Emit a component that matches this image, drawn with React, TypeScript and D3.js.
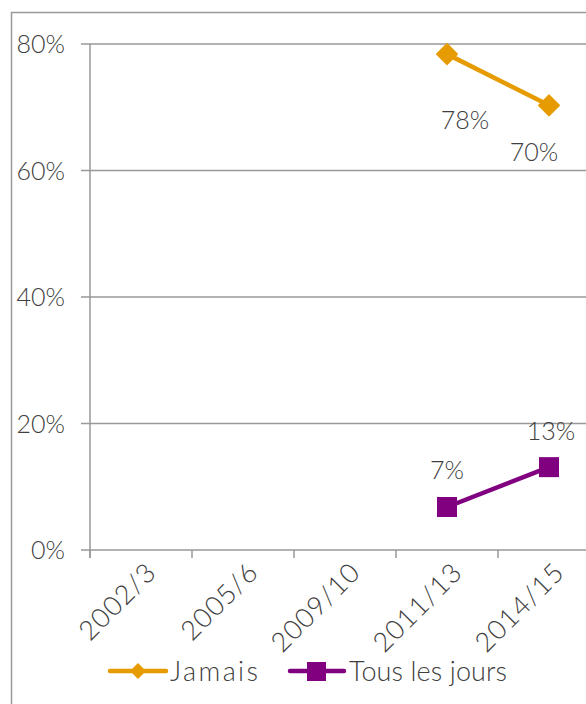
import React from "react";
import * as d3 from "d3";

const categories = ["2002/3", "2005/6", "2009/10", "2011/13", "2014/15"];
const jamais: (number | null)[] = [null, null, null, 0.784, 0.703];
const tousLesJours: (number | null)[] = [null, null, null, 0.068, 0.131];
const yTicks = [0, 0.2, 0.4, 0.6, 0.8];
const legendItems = ["Jamais", "Tous les jours"];

const W = 586;
const H = 704;
const FONT = "Lato, 'Open Sans', sans-serif";
const TEXT = "#404040";
const GRID = "#999999";
const ORANGE = "#E69B00";
const PURPLE = "#800080";

export default function App() {
  const x = d3.scaleBand<string>().domain(categories).range([90, 600]).padding(0);
  const y = d3.scaleLinear().domain([0, 0.8]).range([550, 44]);
  const cx = (c: string) => (x(c) as number) + x.bandwidth() / 2;

  const line = d3
    .line<[string, number | null]>()
    .defined((d) => d[1] !== null)
    .x((d) => cx(d[0]))
    .y((d) => y(d[1] as number));

  const jPts = categories.map((c, i) => [c, jamais[i]] as [string, number | null]);
  const tPts = categories.map((c, i) => [c, tousLesJours[i]] as [string, number | null]);

  const fmt = (v: number) => `${Math.round(v * 100)}%`;

  // label offsets (manual placement as in reference)
  const jLabelOff = [[18, 75], [-15, 56]];
  const tLabelOff = [[0, -28], [2, -27]];

  const diamond = (px: number, py: number, r: number) =>
    `M${px},${py - r}L${px + r},${py}L${px},${py + r}L${px - r},${py}Z`;

  return (
    <svg
      width={W}
      height={H}
      style={{ position: "absolute", left: 0, top: 0, background: "#fff" }}
      fontFamily={FONT}
      fontWeight={300}
    >
      {/* outer frame */}
      <path d={`M11.5,${H}V12.5H${W}`} fill="none" stroke={GRID} strokeWidth={1.5} />
      {/* gridlines + y ticks */}
      {yTicks.map((t) => (
        <g key={t}>
          <line x1={81} x2={W} y1={y(t)} y2={y(t)} stroke={GRID} strokeWidth={1.5} />
          <text x={65} y={y(t)} dy="0.36em" textAnchor="end" fontSize={25} fill={TEXT}>
            {fmt(t)}
          </text>
        </g>
      ))}
      {/* y axis */}
      <line x1={90} x2={90} y1={y(0.8)} y2={y(0) + 8} stroke={GRID} strokeWidth={1.5} />
      {/* x ticks */}
      {categories.map((c) => (
        <line
          key={"t" + c}
          x1={x(c) as number}
          x2={x(c) as number}
          y1={y(0)}
          y2={y(0) + 8}
          stroke={GRID}
          strokeWidth={1.5}
        />
      ))}
      {/* x labels */}
      {categories.map((c) => (
        <text
          key={"l" + c}
          transform={`translate(${cx(c) + 17},${y(0) + 24}) rotate(-45)`}
          textAnchor="end"
          fontSize={27}
          letterSpacing={1}
          fill={TEXT}
        >
          {c}
        </text>
      ))}
      {/* series */}
      <path d={line(jPts) || ""} fill="none" stroke={ORANGE} strokeWidth={4.5} />
      <path d={line(tPts) || ""} fill="none" stroke={PURPLE} strokeWidth={4.5} />
      {jPts
        .filter((d) => d[1] !== null)
        .map((d, i) => (
          <g key={"jm" + i}>
            <path d={diamond(cx(d[0]), y(d[1] as number), 10)} fill={ORANGE} stroke={ORANGE} strokeWidth={2} strokeLinejoin="round" />
            <text
              x={cx(d[0]) + jLabelOff[i][0]}
              y={y(d[1] as number) + jLabelOff[i][1]}
              textAnchor="middle"
              fontSize={25}
              fill={TEXT}
            >
              {fmt(d[1] as number)}
            </text>
          </g>
        ))}
      {tPts
        .filter((d) => d[1] !== null)
        .map((d, i) => (
          <g key={"tm" + i}>
            <rect
              x={cx(d[0]) - 10}
              y={y(d[1] as number) - 10}
              width={20}
              height={20}
              fill={PURPLE}
            />
            <text
              x={cx(d[0]) + tLabelOff[i][0]}
              y={y(d[1] as number) + tLabelOff[i][1]}
              textAnchor="middle"
              fontSize={25}
              fill={TEXT}
            >
              {fmt(d[1] as number)}
            </text>
          </g>
        ))}
      {/* legend */}
      <g>
        <line x1={110} x2={166} y1={671} y2={671} stroke={ORANGE} strokeWidth={4.5} strokeLinecap="round" />
        <path d={diamond(138, 671, 8)} fill={ORANGE} />
        <text x={170} y={671} dy="0.36em" fontSize={27} textLength={88} lengthAdjust="spacing" fill={TEXT}>{legendItems[0]}</text>
        <line x1={290} x2={344} y1={671} y2={671} stroke={PURPLE} strokeWidth={4.5} strokeLinecap="round" />
        <rect x={307} y={662} width={19} height={19} fill={PURPLE} />
        <text x={349} y={671} dy="0.36em" fontSize={27} textLength={158} lengthAdjust="spacing" fill={TEXT}>{legendItems[1]}</text>
      </g>
    </svg>
  );
}
